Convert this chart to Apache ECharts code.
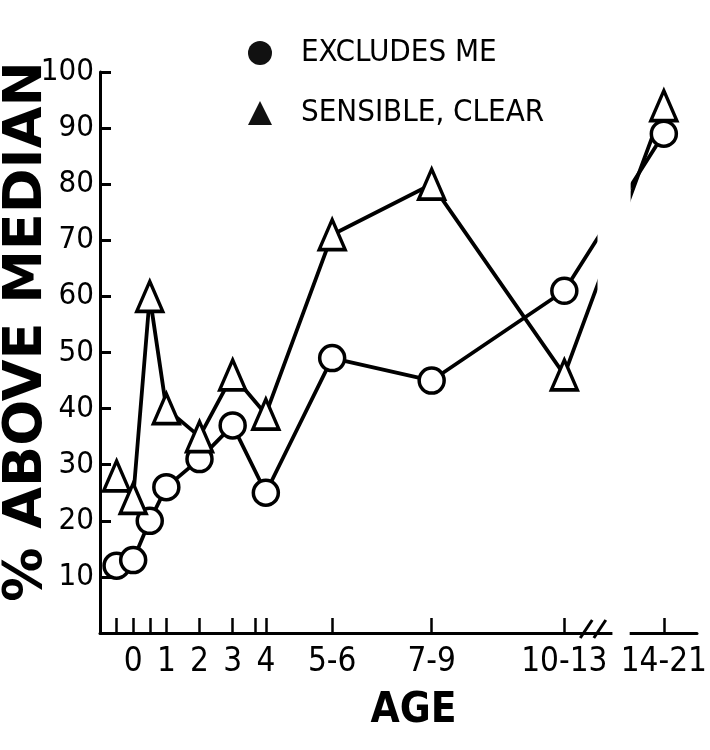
<!DOCTYPE html>
<html>
<head>
<meta charset="utf-8">
<title>% Above Median by Age</title>
<script src="https://cdn.jsdelivr.net/npm/echarts@6/dist/echarts.min.js"></script>
<style>
  html, body { margin: 0; padding: 0; background: #fff; }
  #chart { width: 710px; height: 750px; }
</style>
</head>
<body>
<div id="chart"></div>
<script>
// Age groups are placed on a position scale (one unit per year up to 4,
// then the upper bound of each band; 14-21 sits past an axis break).
const agePositions = [-0.5, 0, 0.5, 1, 2, 3, 4, 6, 9, 13, 16];
const excludesMe = [12, 13, 20, 26, 31, 37, 25, 49, 45, 61, 89];
const sensibleClear = [28, 24, 60, 40, 35, 46, 39, 71, 80, 46, 94];

const xTickPositions = [-0.5, 0, 0.5, 1, 2, 3, 3.67, 4, 6, 9, 13, 16];
const xLabelPositions = [0, 1, 2, 3, 4, 6, 9, 13, 16];
const xLabels = ['0', '1', '2', '3', '4', '5-6', '7-9', '10-13', '14-21'];
const yTicks = [10, 20, 30, 40, 50, 60, 70, 80, 90, 100];

const seriesNames = ['EXCLUDES ME', 'SENSIBLE, CLEAR'];

// Axis break between the 10-13 and 14-21 groups (position units)
const lineGap = [14.0, 15.0];
const axisGap = [14.45, 14.97];
const slashCenters = [13.66, 14.07];

const NARROW = '"Liberation Sans Narrow", "DejaVu Sans Condensed", "Liberation Sans", sans-serif';
const BOLD = '"DejaVu Sans", "Liberation Sans", sans-serif';
const INK = '#000';

const toPairs = (vals) => agePositions.map((x, i) => [x, vals[i]]);

const chart = echarts.init(document.getElementById('chart'), null, { renderer: 'canvas' });

chart.setOption({
  animation: false,
  backgroundColor: '#fff',
  grid: { left: 100, right: 13, top: 72, bottom: 117, containLabel: false, outerBoundsMode: 'none' },
  legend: {
    orient: 'vertical',
    left: 243,
    top: 30,
    itemWidth: 24,
    itemHeight: 24,
    itemGap: 24,
    textStyle: {
      fontFamily: NARROW,
      fontSize: 31,
      color: INK,
      lineHeight: 36,
      padding: [0, 0, 0, 24]
    },
    data: [
      { name: seriesNames[0], icon: 'circle', itemStyle: { color: '#111', borderWidth: 0 } },
      { name: seriesNames[1], icon: 'triangle', itemStyle: { color: '#111', borderWidth: 0 } }
    ]
  },
  xAxis: {
    type: 'value',
    min: -1,
    max: 17,
    name: 'AGE',
    nameLocation: 'middle',
    nameGap: 57,
    nameMoveOverlap: false,
    nameTextStyle: {
      fontFamily: NARROW,
      fontWeight: 'bold',
      fontSize: 42,
      color: INK,
      padding: [0, 0, 0, 30]
    },
    axisLine: { show: true, onZero: false, lineStyle: { color: INK, width: 3 } },
    axisTick: {
      show: true,
      inside: true,
      length: 15,
      lineStyle: { color: INK, width: 2.5 },
      customValues: xTickPositions
    },
    axisLabel: {
      margin: 13,
      hideOverlap: false,
      showMinLabel: true,
      showMaxLabel: true,
      fontFamily: NARROW,
      fontSize: 33,
      color: INK,
      customValues: xLabelPositions,
      formatter: (v) => {
        const i = xLabelPositions.indexOf(v);
        return i >= 0 ? xLabels[i] : '';
      }
    },
    splitLine: { show: false }
  },
  yAxis: {
    type: 'value',
    min: 0,
    max: 100,
    interval: 10,
    name: '% ABOVE MEDIAN',
    nameLocation: 'middle',
    nameGap: 46,
    nameRotate: 90,
    nameMoveOverlap: false,
    nameTextStyle: {
      fontFamily: BOLD,
      fontWeight: 'bold',
      fontSize: 54,
      color: INK,
      padding: [0, 0, 0, 42]
    },
    axisLine: { show: true, onZero: false, lineStyle: { color: INK, width: 3 } },
    axisTick: {
      show: true,
      inside: true,
      length: 11,
      lineStyle: { color: INK, width: 3 },
      customValues: yTicks
    },
    axisLabel: {
      margin: 6,
      fontFamily: NARROW,
      fontSize: 31,
      color: INK,
      customValues: yTicks
    },
    splitLine: { show: false }
  },
  series: [
    {
      name: seriesNames[0],
      type: 'line',
      data: toPairs(excludesMe),
      symbol: 'circle',
      symbolSize: 25,
      showAllSymbol: true,
      lineStyle: { color: INK, width: 3.8 },
      itemStyle: { color: '#fff', borderColor: INK, borderWidth: 3.5 },
      z: 3
    },
    {
      name: seriesNames[1],
      type: 'line',
      data: toPairs(sensibleClear),
      symbol: 'triangle',
      symbolSize: [26, 30],
      showAllSymbol: true,
      lineStyle: { color: INK, width: 3.8 },
      itemStyle: { color: '#fff', borderColor: INK, borderWidth: 3.5 },
      z: 3
    }
  ]
});

// Axis-break decoration: blank out the lines and the axis across the gap,
// then draw the "//" break marks on the axis.
function drawBreak() {
  const px = (x, y) => chart.convertToPixel({ gridIndex: 0 }, [x, y]);
  const axisY = px(0, 0)[1];
  const topY = px(0, 100)[1];
  const gx0 = px(lineGap[0], 0)[0];
  const gx1 = px(lineGap[1], 0)[0];
  const ax0 = px(axisGap[0], 0)[0];
  const ax1 = px(axisGap[1], 0)[0];

  const elements = [
    {
      type: 'rect',
      z: 100,
      shape: { x: gx0, y: topY - 20, width: gx1 - gx0, height: axisY - 3 - (topY - 20) },
      style: { fill: '#fff' },
      silent: true
    },
    {
      type: 'rect',
      z: 100,
      shape: { x: ax0, y: axisY - 4, width: ax1 - ax0, height: 8 },
      style: { fill: '#fff' },
      silent: true
    }
  ];
  slashCenters.forEach((u) => {
    const cx = px(u, 0)[0];
    const cy = axisY - 4;
    elements.push({
      type: 'line',
      z: 101,
      shape: { x1: cx - 6, y1: cy + 9, x2: cx + 6, y2: cy - 9 },
      style: { stroke: INK, lineWidth: 3 },
      silent: true
    });
  });
  chart.setOption({ graphic: { elements } });
}
drawBreak();
</script>
</body>
</html>
